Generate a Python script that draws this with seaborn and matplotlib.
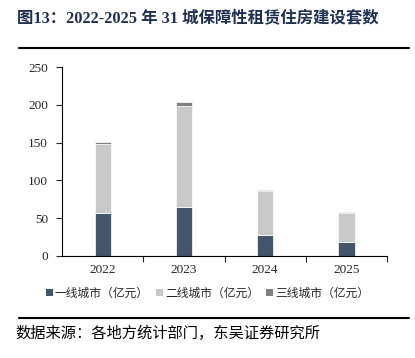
import matplotlib
matplotlib.use("Agg")
import matplotlib.pyplot as plt
import seaborn as sns
import pandas as pd
from matplotlib.patches import Patch
from matplotlib.lines import Line2D

# Data
years = ["2022", "2023", "2024", "2025"]
tier1 = [57, 65, 27.5, 18.5]
tier2 = [91.5, 133, 58, 38]
tier3 = [2.5, 5.5, 1.5, 2]
series_names = ["一线城市（亿元）", "二线城市（亿元）", "三线城市（亿元）"]
colors = ["#44546A", "#C9C9C9", "#7F7F7F"]

sns.set_style("white")
plt.rcParams["font.family"] = ["Liberation Serif", "Noto Sans CJK SC"]

fig = plt.figure(figsize=(4.15, 3.58), dpi=100)
ax = fig.add_axes([62 / 415, 1 - 256 / 358, 325 / 415, 189 / 358])

df = pd.DataFrame({"year": years, "t1": tier1, "t2": tier2, "t3": tier3})
bottom = [0] * len(years)
for col, c in zip(["t1", "t2", "t3"], colors):
    sns.barplot(data=df, x="year", y=col, color=c, width=0.2, bottom=bottom,
                ax=ax, edgecolor="white", linewidth=0.5, saturation=1)
    bottom = [b + v for b, v in zip(bottom, df[col])]

ax.set_ylim(0, 250)
ax.set_xlim(-0.5, 3.5)
ax.set_yticks(range(0, 251, 50))
ax.set_xlabel("")
ax.set_ylabel("")
for s in ["top", "right"]:
    ax.spines[s].set_visible(False)
for s in ["left", "bottom"]:
    ax.spines[s].set_color("#000000")
    ax.spines[s].set_linewidth(0.8)
ax.tick_params(axis="y", direction="out", length=4, width=0.8, labelsize=9.5, pad=6, left=True)
ax.tick_params(axis="x", which="major", length=0, labelsize=9.5, pad=6)
ax.set_xticks([0.5, 1.5, 2.5, 3.5], minor=True)
ax.tick_params(axis="x", which="minor", direction="out", length=4, width=0.8, bottom=True)

handles = [Patch(facecolor=c, edgecolor="none") for c in colors]
fig.legend(handles, series_names, loc="center", bbox_to_anchor=(0.5, 1 - 293 / 358),
           ncol=3, frameon=False, prop={"family": ["Noto Sans CJK SC"], "size": 8.5},
           handlelength=0.55, handleheight=0.55, handletextpad=0.2, columnspacing=0.6)

fig.text(0.042, 1 - 18 / 358, "图13：2022-2025 年 31 城保障性租赁住房建设套数",
         fontsize=11.8, fontweight="bold", color="#1F3050", va="center", ha="left",
         family=["Liberation Serif", "Noto Sans CJK SC"])
fig.add_artist(Line2D([0.045, 0.985], [1 - 48 / 358] * 2, color="black", linewidth=1.5))
fig.add_artist(Line2D([0.045, 0.985], [1 - 318 / 358] * 2, color="black", linewidth=1.5))
fig.text(0.038, 1 - 333 / 358, "数据来源：各地方统计部门，东吴证券研究所",
         fontsize=11, color="black", va="center", ha="left",
         family=["Noto Sans CJK SC"])

fig.savefig("out.png", dpi=100)
